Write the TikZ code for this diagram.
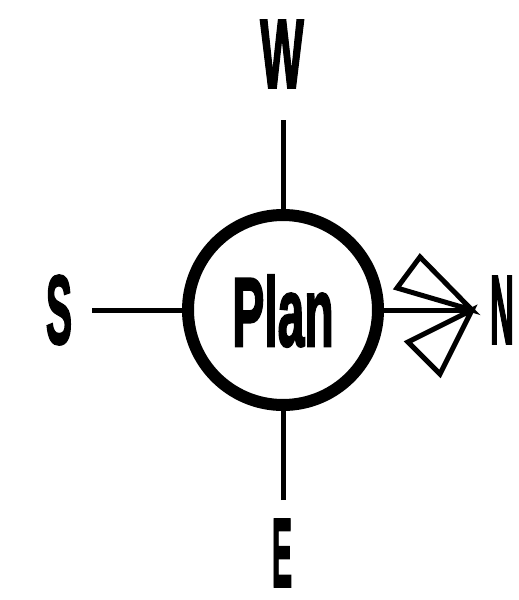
\documentclass[tikz,border=0pt]{standalone}
\usepackage{fontspec}
\setmainfont{Liberation Sans}
\newfontfamily\lblfont{Liberation Sans}[BoldFeatures={FakeBold=2.5}]
\begin{document}
\begin{tikzpicture}[x=1pt,y=-1pt,
  lbl/.style={inner sep=0pt,font=\lblfont\fontsize{98}{98}\selectfont\bfseries},
  ring/.style={draw,circle,line width=12pt,minimum size=190pt,inner sep=0pt},
  spoke/.style={line width=5pt},
  fletch/.style={line width=5pt,line join=miter}]
\useasboundingbox (0,0) rectangle (519,600);
\node[ring] (c) at (283,310) {};
\node[lbl] (plan) at (283,311) {\scalebox{0.49}[1]{Plan}};
\node[lbl] (w) at (282,54) {\scalebox{0.47}[1]{W}};
\node[lbl] (s) at (59,310) {\scalebox{0.40}[1]{S}};
\node[lbl] (e) at (282,553) {\scalebox{0.31}[1]{E}};
\node[lbl] (n) at (502,310) {\scalebox{0.34}[1]{N}};
\coordinate (wt) at (283,120);
\coordinate (et) at (283,500);
\coordinate (st) at (92,310);
\coordinate (tip) at (472,310);
\coordinate (u1) at (420,257);
\coordinate (u2) at (397,288);
\coordinate (l1) at (408,342);
\coordinate (l2) at (440,374);
\draw[spoke] (wt) -- (c.north);
\draw[spoke] (et) -- (c.south);
\draw[spoke] (st) -- (c.west);
\draw[spoke] (c.east) -- (tip);
\draw[fletch] (tip) -- (u1) -- (u2) -- cycle;
\draw[fletch] (tip) -- (l1) -- (l2) -- cycle;
\end{tikzpicture}
\end{document}
